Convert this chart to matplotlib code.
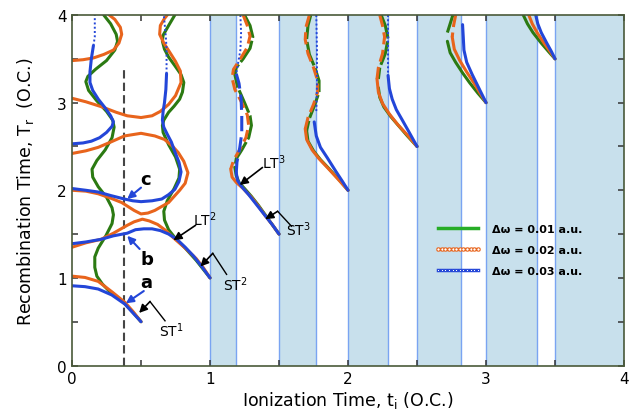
import numpy as np
import matplotlib.pyplot as plt
from matplotlib.lines import Line2D

# colours for the three detunings
c_green = '#2b7a12'
c_orange = '#e8641c'
c_blue = '#2346d8'

# shaded ionization windows
band_lo = [1.0, 1.5, 2.0, 2.5, 3.0, 3.5]
band_hi = [1.19, 1.77, 2.29, 2.82, 3.37, 4.0]

tick_pos = [0, 0.5, 1, 1.5, 2, 2.5, 3, 3.5, 4]
tick_lab = ['0', '', '1', '', '2', '', '3', '', '4']

guide_x = 0.38
guide_top = 3.42

legend_labels = ['\u0394\u03c9 = 0.01 a.u.', '\u0394\u03c9 = 0.02 a.u.', '\u0394\u03c9 = 0.03 a.u.']

# ---- first cycle (t_i < 1) ----
green_a1 = [(0.23, 4.00), (0.28, 3.90), (0.32, 3.78), (0.33, 3.70), (0.31, 3.60), (0.25, 3.48),
            (0.17, 3.38), (0.115, 3.30), (0.10, 3.24), (0.12, 3.14), (0.18, 3.02), (0.25, 2.90),
            (0.295, 2.80), (0.305, 2.72), (0.29, 2.60), (0.24, 2.46), (0.18, 2.34), (0.145, 2.24),
            (0.15, 2.15), (0.19, 2.04), (0.25, 1.92), (0.29, 1.80), (0.30, 1.72), (0.29, 1.62),
            (0.245, 1.48), (0.19, 1.34), (0.165, 1.24), (0.165, 1.12), (0.18, 1.02), (0.22, 0.93),
            (0.275, 0.84), (0.33, 0.775), (0.38, 0.71), (0.44, 0.61), (0.50, 0.50)]
green_a2 = [(0.745, 4.00), (0.70, 3.88), (0.66, 3.77), (0.655, 3.70), (0.67, 3.61), (0.70, 3.52),
            (0.746, 3.42), (0.79, 3.32), (0.81, 3.23), (0.80, 3.12), (0.78, 3.04), (0.74, 2.96),
            (0.70, 2.89), (0.665, 2.80), (0.655, 2.74), (0.66, 2.66), (0.70, 2.52), (0.75, 2.38),
            (0.78, 2.24), (0.775, 2.14), (0.74, 2.02), (0.69, 1.88), (0.665, 1.76), (0.67, 1.66),
            (0.70, 1.55), (0.75, 1.45), (0.82, 1.34), (0.90, 1.20), (0.95, 1.10), (1.00, 1.00)]

orange_a1 = [(0.0, 3.48), (0.08, 3.49), (0.155, 3.51), (0.23, 3.55), (0.30, 3.60), (0.34, 3.68),
             (0.36, 3.78), (0.35, 3.86), (0.31, 3.95), (0.27, 4.0)]
orange_a2 = [(0.0, 3.05), (0.10, 3.01), (0.22, 2.95), (0.32, 2.89), (0.40, 2.85), (0.50, 2.83),
             (0.58, 2.85), (0.64, 2.90), (0.70, 2.98), (0.75, 3.08), (0.79, 3.23), (0.785, 3.36),
             (0.75, 3.47), (0.71, 3.57), (0.665, 3.68), (0.635, 3.78), (0.64, 3.88), (0.67, 3.96),
             (0.69, 4.0)]
orange_a3 = [(0.0, 2.42), (0.10, 2.45), (0.19, 2.49), (0.28, 2.55), (0.38, 2.62), (0.50, 2.65),
             (0.60, 2.62), (0.67, 2.58), (0.73, 2.50), (0.77, 2.43), (0.81, 2.33), (0.84, 2.20),
             (0.82, 2.08), (0.78, 2.00), (0.70, 1.86), (0.60, 1.77), (0.55, 1.74), (0.50, 1.73),
             (0.45, 1.77), (0.36, 1.86), (0.28, 1.91), (0.19, 1.96), (0.10, 1.99), (0.0, 2.00)]
orange_a4 = [(0.0, 1.35), (0.10, 1.40), (0.21, 1.44), (0.30, 1.51), (0.40, 1.60), (0.45, 1.64),
             (0.51, 1.67), (0.56, 1.65), (0.62, 1.61), (0.68, 1.54), (0.74, 1.45), (0.82, 1.34),
             (0.90, 1.22), (0.95, 1.12), (1.0, 1.0)]
orange_a5 = [(0.0, 1.02), (0.094, 1.005), (0.19, 0.96), (0.29, 0.84), (0.384, 0.72), (0.44, 0.62),
             (0.50, 0.50)]

blue_a1 = [(0.0, 0.91), (0.094, 0.90), (0.19, 0.873), (0.288, 0.805), (0.384, 0.70), (0.43, 0.62),
           (0.50, 0.50)]
blue_a2 = [(0.0, 1.39), (0.10, 1.41), (0.21, 1.44), (0.30, 1.48), (0.40, 1.51), (0.46, 1.55),
           (0.52, 1.56), (0.58, 1.56), (0.64, 1.54), (0.70, 1.50), (0.76, 1.44), (0.82, 1.35),
           (0.88, 1.25), (0.94, 1.13), (1.0, 1.0)]
blue_a3 = [(0.0, 2.02), (0.10, 2.00), (0.19, 1.98), (0.28, 1.94), (0.38, 1.90), (0.44, 1.88),
           (0.50, 1.87), (0.58, 1.88), (0.65, 1.90), (0.70, 1.95), (0.745, 2.01), (0.775, 2.10),
           (0.79, 2.21), (0.775, 2.32), (0.745, 2.44), (0.72, 2.55), (0.69, 2.64), (0.665, 2.72),
           (0.655, 2.80), (0.66, 2.90), (0.67, 3.00), (0.68, 3.15), (0.685, 3.33)]
blue_a3_dots = [(0.685, 3.33), (0.685, 3.45), (0.685, 3.61), (0.68, 3.75), (0.67, 3.92), (0.665, 4.0)]
blue_a4 = [(0.0, 2.53), (0.08, 2.54), (0.14, 2.56), (0.20, 2.60), (0.25, 2.66), (0.29, 2.73),
           (0.30, 2.78), (0.28, 2.85), (0.24, 2.94), (0.19, 3.04), (0.15, 3.14), (0.13, 3.23),
           (0.13, 3.35), (0.14, 3.50), (0.155, 3.65)]
blue_a4_dots = [(0.155, 3.65), (0.165, 3.75), (0.165, 3.88), (0.165, 4.0)]

# ---- t_i in [1, 1.5] ----
green_b_wave = [(1.25, 4.0), (1.29, 3.88), (1.31, 3.75), (1.29, 3.62), (1.24, 3.50), (1.19, 3.40),
                (1.18, 3.32), (1.20, 3.18), (1.25, 3.00), (1.29, 2.85), (1.30, 2.74), (1.28, 2.60),
                (1.23, 2.46), (1.19, 2.36), (1.18, 2.26)]
green_b_tail = [(1.18, 2.26), (1.19, 2.17), (1.21, 2.09), (1.25, 2.02), (1.30, 1.93), (1.35, 1.83),
                (1.40, 1.72), (1.45, 1.61), (1.50, 1.50)]
orange_b_wave = [(1.24, 4.0), (1.27, 3.88), (1.29, 3.76), (1.27, 3.63), (1.22, 3.50), (1.17, 3.38),
                 (1.16, 3.28), (1.18, 3.15), (1.23, 3.00), (1.27, 2.86), (1.28, 2.74), (1.26, 2.60),
                 (1.21, 2.45), (1.17, 2.34), (1.15, 2.24)]
orange_b_tail = [(1.15, 2.24), (1.16, 2.15), (1.19, 2.09), (1.24, 2.02), (1.30, 1.92), (1.35, 1.82),
                 (1.40, 1.71), (1.45, 1.61), (1.50, 1.50)]
blue_b_dots = [(1.22, 4.0), (1.225, 3.80), (1.22, 3.60), (1.20, 3.42), (1.19, 3.33)]
blue_b_wave = [(1.19, 3.33), (1.21, 3.22), (1.225, 3.05), (1.23, 2.85), (1.23, 2.65), (1.215, 2.48),
               (1.195, 2.32), (1.19, 2.20)]
blue_b_tail = [(1.19, 2.20), (1.20, 2.11), (1.23, 2.04), (1.28, 1.95), (1.34, 1.83), (1.40, 1.71),
               (1.45, 1.61), (1.50, 1.50)]

# ---- t_i in [1.5, 2] ----
green_c_wave = [(1.73, 4.0), (1.71, 3.88), (1.70, 3.72), (1.72, 3.55), (1.76, 3.40), (1.79, 3.25),
                (1.79, 3.12), (1.76, 2.98), (1.72, 2.82), (1.70, 2.68)]
green_c_tail = [(1.70, 2.68), (1.71, 2.56), (1.75, 2.45), (1.80, 2.35), (1.86, 2.25), (1.93, 2.13),
                (2.0, 2.0)]
orange_c_wave = [(1.72, 4.0), (1.695, 3.86), (1.69, 3.72), (1.71, 3.56), (1.75, 3.40), (1.78, 3.25),
                 (1.78, 3.12), (1.75, 2.98), (1.71, 2.83), (1.69, 2.70)]
orange_c_tail = [(1.69, 2.70), (1.70, 2.58), (1.74, 2.46), (1.79, 2.36), (1.85, 2.26), (1.92, 2.14),
                 (2.0, 2.0)]
blue_c_dots = [(1.77, 4.0), (1.775, 3.6), (1.775, 3.2), (1.77, 2.9)]
blue_c_tail = [(1.755, 2.78), (1.77, 2.62), (1.80, 2.49), (1.85, 2.37), (1.91, 2.22), (1.96, 2.10),
               (2.0, 2.0)]

# ---- t_i in [2, 2.5] ----
green_d_wave = [(2.24, 4.0), (2.27, 3.88), (2.29, 3.73), (2.27, 3.56), (2.23, 3.40), (2.22, 3.27)]
green_d_tail = [(2.22, 3.17), (2.23, 3.06), (2.26, 2.95), (2.31, 2.84), (2.37, 2.73), (2.43, 2.62),
                (2.50, 2.50)]
orange_d_wave = [(2.23, 4.0), (2.25, 3.88), (2.265, 3.75), (2.25, 3.56), (2.22, 3.40), (2.21, 3.27)]
orange_d_tail = [(2.21, 3.27), (2.22, 3.12), (2.25, 2.99), (2.30, 2.87), (2.36, 2.75), (2.43, 2.63),
                 (2.50, 2.50)]
blue_d_dots = [(2.29, 4.0), (2.29, 3.65), (2.29, 3.31)]
blue_d_tail = [(2.29, 3.31), (2.30, 3.16), (2.32, 3.04), (2.35, 2.92), (2.39, 2.81), (2.44, 2.67),
               (2.50, 2.50)]

# ---- t_i in [2.5, 3] ----
green_e_wave = [(2.76, 4.0), (2.74, 3.90), (2.72, 3.80)]
green_e_tail = [(2.72, 3.70), (2.74, 3.57), (2.78, 3.46), (2.83, 3.34), (2.88, 3.23), (2.94, 3.11),
                (3.0, 3.0)]
orange_e_wave = [(2.78, 4.0), (2.765, 3.88), (2.755, 3.75)]
orange_e_tail = [(2.755, 3.75), (2.77, 3.61), (2.81, 3.48), (2.86, 3.35), (2.91, 3.23), (2.96, 3.10),
                 (3.0, 3.0)]
blue_e = [(2.83, 3.89), (2.835, 3.75), (2.84, 3.60), (2.86, 3.46), (2.90, 3.32), (2.95, 3.16),
          (3.0, 3.0)]

# ---- t_i in [3, 3.5] ----
green_f = [(3.27, 4.0), (3.30, 3.90), (3.34, 3.80), (3.40, 3.68), (3.46, 3.57), (3.50, 3.50)]
orange_f = [(3.31, 4.0), (3.335, 3.90), (3.37, 3.80), (3.42, 3.68), (3.47, 3.57), (3.50, 3.50)]
blue_f = [(3.36, 4.0), (3.375, 3.90), (3.40, 3.80), (3.44, 3.68), (3.475, 3.58), (3.50, 3.50)]


fig = plt.figure(figsize=(6.29, 4.14), dpi=100)
ax = fig.add_axes([0.1145, 0.1147, 0.8776, 0.8466])


def curve(pts, color, ls='-', lw=2.2, z=3):
    a = np.array(pts)
    ax.plot(a[:, 0], a[:, 1], color=color, ls=ls, lw=lw, zorder=z,
            solid_capstyle='round', dash_capstyle='butt')


for lo, hi in zip(band_lo, band_hi):
    ax.axvspan(lo, hi, color='#c8e0ec', lw=0, zorder=0)
    ax.axvline(lo, color='#7aa4f2', lw=1.0, zorder=1)
    ax.axvline(hi, color='#7aa4f2', lw=1.0, zorder=1)

ax.plot([guide_x, guide_x], [0, guide_top], color='#454545', lw=1.5, ls=(0, (4, 2)), zorder=2)

g_dash = (0, (8, 1))
o_dash = (0, (4, 1.8))
dots = (0, (1, 1.2))

for pts in [green_a1, green_a2]:
    curve(pts, c_green)
for pts in [green_b_wave, green_c_wave, green_d_wave, green_e_wave]:
    curve(pts, c_green, ls=g_dash)
for pts in [green_b_tail, green_c_tail, green_d_tail, green_e_tail, green_f]:
    curve(pts, c_green)

for pts in [orange_a1, orange_a2, orange_a3, orange_a4, orange_a5]:
    curve(pts, c_orange, z=4)
for pts in [orange_b_wave, orange_c_wave, orange_d_wave, orange_e_wave]:
    curve(pts, c_orange, ls=o_dash, z=4)
for pts in [orange_b_tail, orange_c_tail, orange_d_tail, orange_e_tail, orange_f]:
    curve(pts, c_orange, z=4)

for pts in [blue_a1, blue_a2, blue_a3, blue_a4, blue_c_tail, blue_d_tail, blue_e, blue_f, blue_b_tail]:
    curve(pts, c_blue, z=5)
curve(blue_b_wave, c_blue, ls=(0, (5, 2)), z=5)
for pts in [blue_a3_dots, blue_a4_dots, blue_b_dots, blue_c_dots, blue_d_dots]:
    curve(pts, c_blue, ls=dots, lw=1.4, z=5)

# blue pointers a, b, c
for lab, txt, tail, head in [('a', (0.54, 0.95), (0.52, 0.85), (0.39, 0.71)),
                             ('b', (0.545, 1.22), (0.49, 1.33), (0.40, 1.48)),
                             ('c', (0.53, 2.13), (0.50, 2.03), (0.40, 1.90))]:
    ax.text(txt[0], txt[1], lab, fontsize=13, fontweight='bold', ha='center', va='center', zorder=7)
    ax.annotate('', xy=head, xytext=tail, zorder=7,
                arrowprops=dict(arrowstyle='-|>', color=c_blue, lw=1.5, mutation_scale=11,
                                shrinkA=0, shrinkB=0))

# black labels for short / long trajectories
kinked = [('ST$^1$', (0.72, 0.41), (0.674, 0.51), (0.565, 0.73), (0.486, 0.60)),
          ('ST$^2$', (1.18, 0.93), (1.12, 1.04), (1.02, 1.28), (0.93, 1.13)),
          ('ST$^3$', (1.64, 1.56), (1.59, 1.59), (1.49, 1.76), (1.40, 1.67))]
for lab, txt, start, kink, head in kinked:
    ax.text(txt[0], txt[1], lab, fontsize=10, ha='center', va='center', zorder=7)
    ax.plot([start[0], kink[0]], [start[1], kink[1]], color='k', lw=1.0, zorder=7)
    ax.annotate('', xy=head, xytext=kink, zorder=7,
                arrowprops=dict(arrowstyle='-|>', color='k', lw=1.2, mutation_scale=12,
                                shrinkA=0, shrinkB=0))

for lab, txt, tail, head in [('LT$^2$', (0.96, 1.67), (0.895, 1.60), (0.735, 1.43)),
                             ('LT$^3$', (1.46, 2.33), (1.38, 2.26), (1.215, 2.06))]:
    ax.text(txt[0], txt[1], lab, fontsize=10, ha='center', va='center', zorder=7)
    ax.annotate('', xy=head, xytext=tail, zorder=7,
                arrowprops=dict(arrowstyle='-|>', color='k', lw=1.2, mutation_scale=12,
                                shrinkA=0, shrinkB=0))

handles = [Line2D([], [], color='#27ad27', lw=2.5),
           Line2D([], [], color=c_orange, lw=2.5, marker='o', ms=2.4, mfc='white', mec=c_orange, mew=0.7),
           Line2D([], [], color=c_blue, lw=2.5, marker='s', ms=2.0, mfc='white', mec=c_blue, mew=0.7)]
ax.legend(handles, legend_labels, loc='center left', bbox_to_anchor=(0.657, 0.33),
          frameon=False, numpoints=12, handlelength=4.2, handletextpad=1.0,
          labelspacing=1.0, borderpad=0, borderaxespad=0,
          prop={'size': 8, 'weight': 'bold'})

ax.set_xlim(0, 4)
ax.set_ylim(0, 4)
ax.set_xticks(tick_pos)
ax.set_xticklabels(tick_lab)
ax.set_yticks(tick_pos)
ax.set_yticklabels(tick_lab)
ax.tick_params(direction='in', length=4, width=1.1, top=True, right=True, labelsize=11,
               color='#333333', pad=4)
for s in ax.spines.values():
    s.set_color('#4a5a3a')
    s.set_linewidth(1.2)
    s.set_zorder(8)

ax.set_xlabel('Ionization Time, t$_\\mathrm{i}$ (O.C.)', fontsize=12.5, labelpad=2)
ax.set_ylabel('Recombination Time, T$_\\mathrm{r}$  (O.C.)', fontsize=12.5, labelpad=15)

fig.savefig('out.png', dpi=100)
